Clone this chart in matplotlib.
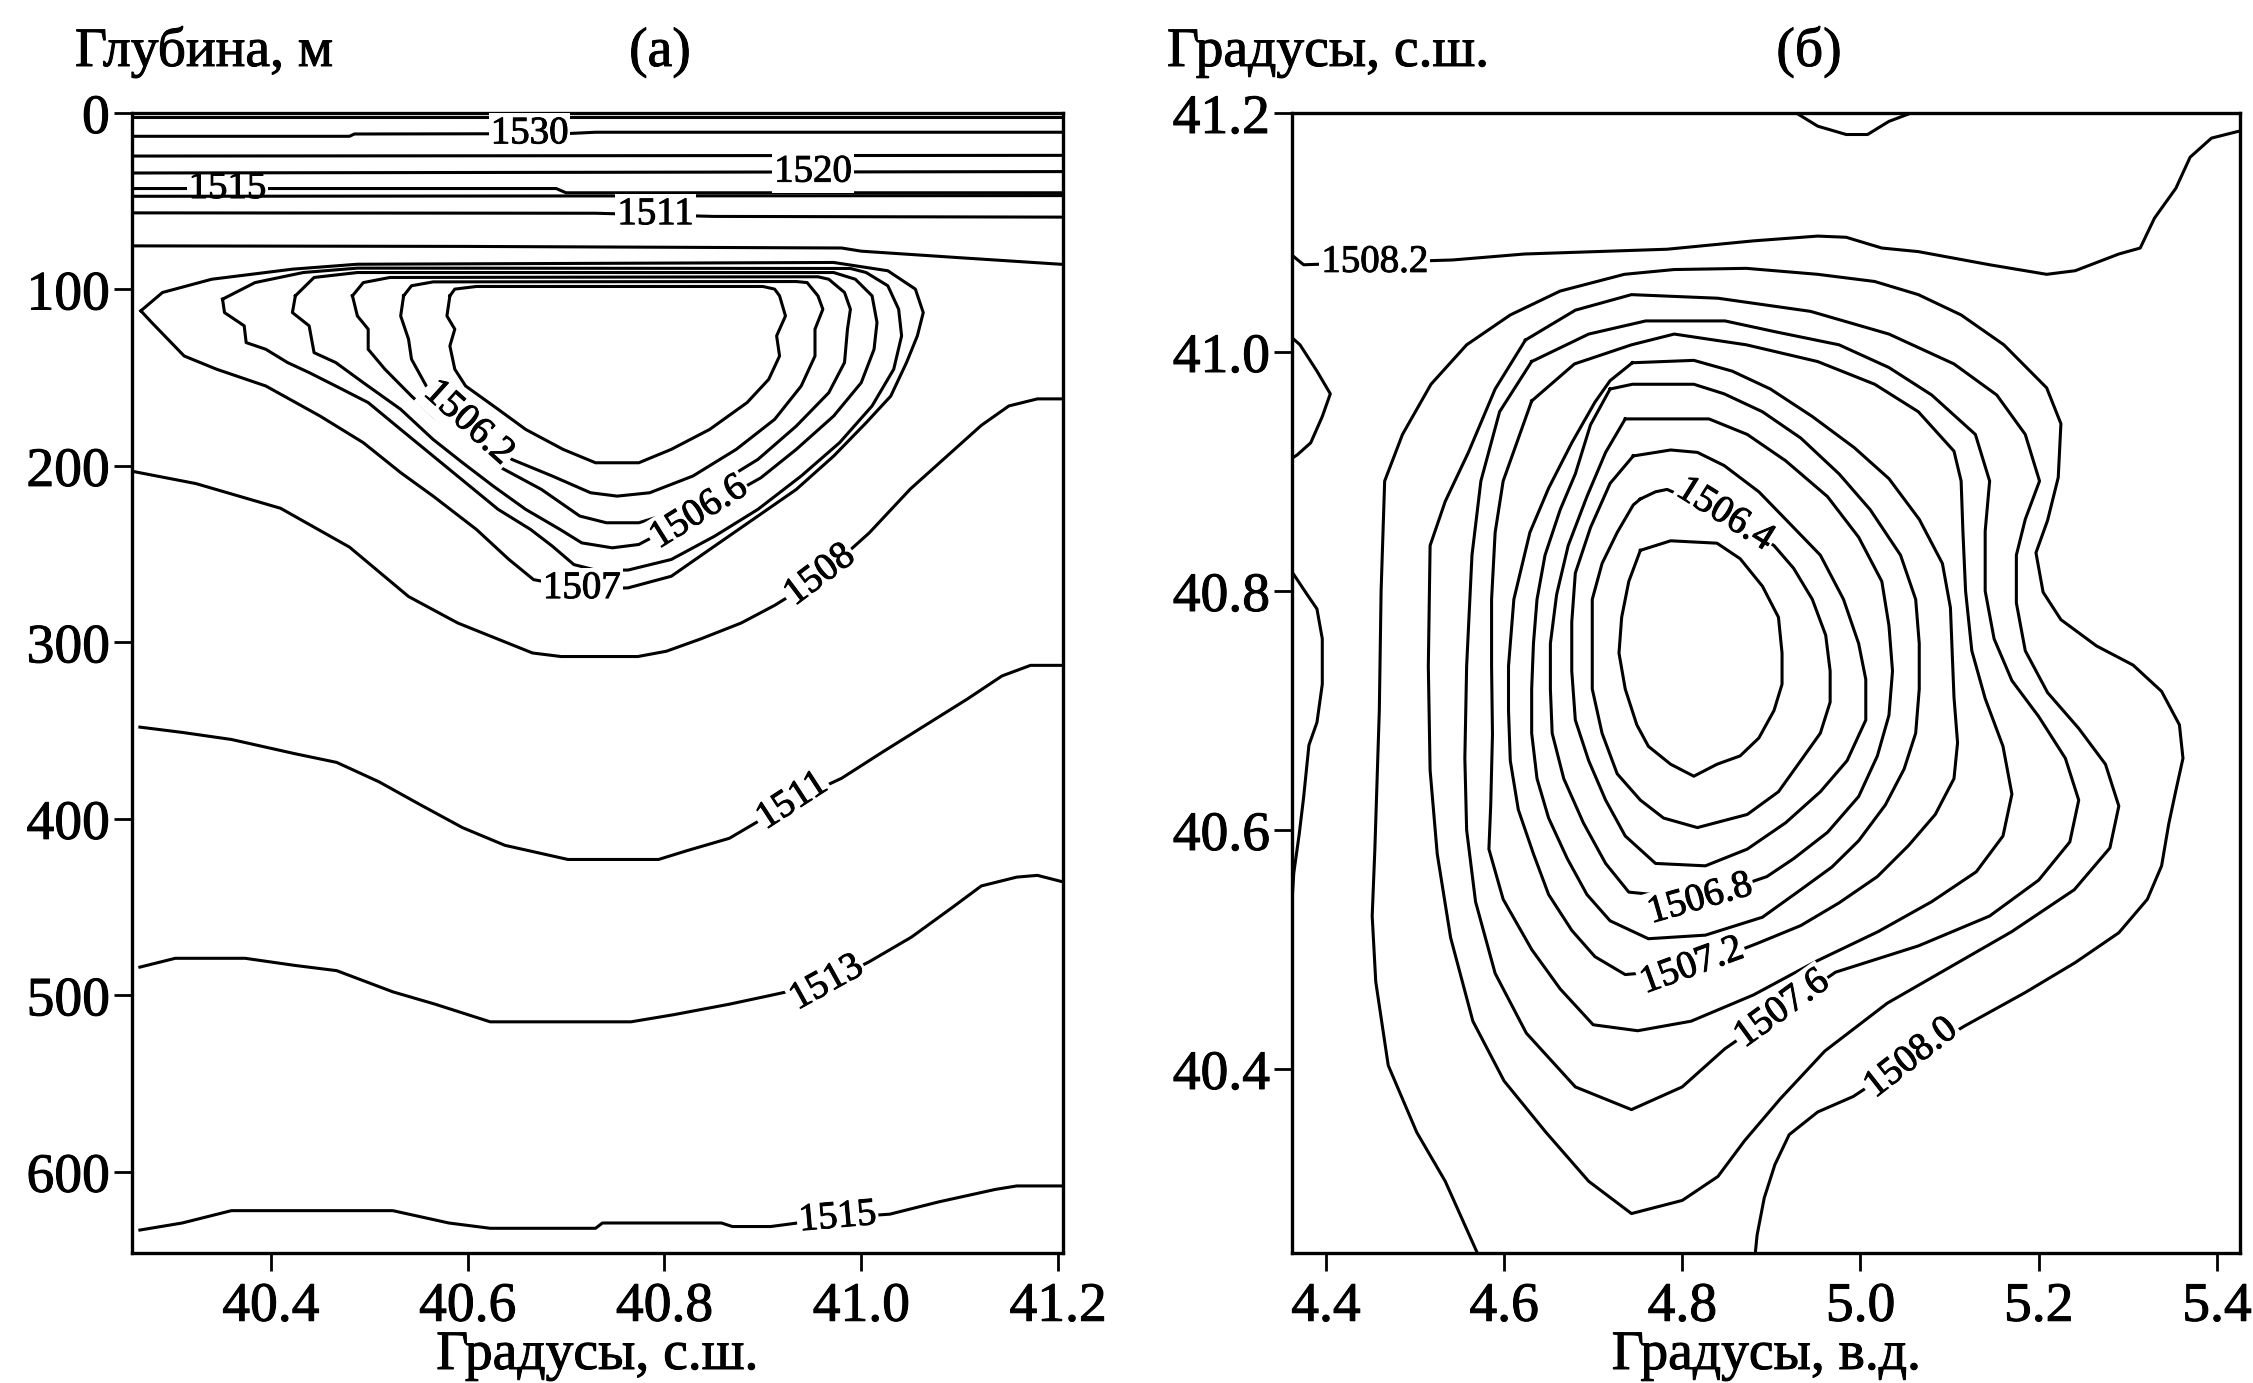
import numpy as np
import matplotlib
matplotlib.use("Agg")
import matplotlib.pyplot as plt
import matplotlib.patheffects as pe

plt.rcParams["font.family"] = ["Liberation Serif", "DejaVu Serif"]

# ---------------- (а) meridional section: latitude (deg N) vs depth (m) ----------------
# near-surface isolines
sec_lat_s0 = [40.262, 41.205]
sec_dep_s0 = [2.0, 2.0]
sec_lat_1530 = [40.262, 40.480, 40.485, 40.700, 40.730, 41.205]
sec_dep_1530 = [13.2, 13.2, 11.9, 11.7, 10.9, 10.9]
sec_lat_s2 = [40.262, 41.205]
sec_dep_s2 = [24.4, 24.0]
sec_lat_1520 = [40.262, 41.205]
sec_dep_1520 = [34.0, 33.2]
sec_lat_1515a = [40.262, 40.690, 40.700, 41.205]
sec_dep_1515a = [42.8, 42.8, 45.2, 45.2]
sec_lat_s5 = [40.262, 41.205]
sec_dep_s5 = [47.2, 46.8]
sec_lat_1511a = [40.262, 40.730, 40.850, 41.205]
sec_dep_1511a = [56.6, 56.8, 58.6, 59.0]
sec_lat_s7 = [40.262, 40.600, 40.980, 41.000, 41.100, 41.205]
sec_dep_s7 = [75.3, 75.6, 76.5, 78.3, 82.0, 85.8]

# cold lens, closed isolines 1506.0 ... 1507.0
lens_lat_1506_0 = [40.582, 40.587, 40.609, 40.900, 40.912, 40.917, 40.923, 40.914, 40.917, 40.906,
                   40.884, 40.846, 40.807, 40.774, 40.730, 40.697, 40.659, 40.631, 40.598, 40.587,
                   40.582, 40.587, 40.579]
lens_dep_1506_0 = [103.6, 99.8, 98.3, 98.3, 99.8, 103.6, 115.0, 126.3, 137.7, 150.9,
                   164.1, 179.3, 190.6, 198.2, 198.2, 190.6, 179.3, 167.9, 154.7, 145.2,
                   132.0, 122.5, 115.0]
lens_lat_1506_2 = [40.535, 40.543, 40.565, 40.934, 40.945, 40.956, 40.961, 40.953, 40.953, 40.939,
                   40.912, 40.873, 40.829, 40.785, 40.752, 40.725, 40.686, 40.645, 40.601, 40.558,
                   40.543, 40.540, 40.532]
lens_dep_1506_2 = [103.6, 97.9, 95.7, 95.5, 96.1, 103.6, 111.2, 122.5, 137.7, 154.7,
                   173.6, 190.6, 205.7, 215.2, 217.1, 215.2, 205.7, 196.3, 175.5, 154.7,
                   139.5, 128.2, 115.0]
lens_lat_1506_4 = [40.483, 40.494, 40.521, 40.956, 40.967, 40.983, 40.989, 40.986, 40.983, 40.967,
                   40.934, 40.895, 40.851, 40.807, 40.774, 40.741, 40.714, 40.675, 40.631, 40.598,
                   40.565, 40.543, 40.516, 40.499, 40.499, 40.488]
lens_dep_1506_4 = [103.6, 96.1, 93.2, 92.8, 94.2, 101.7, 111.2, 122.5, 141.4, 158.5,
                   177.4, 196.3, 211.4, 226.5, 232.2, 232.2, 228.4, 213.3, 200.1, 186.8,
                   171.7, 160.4, 145.2, 133.9, 122.5, 115.0]
lens_lat_1506_6 = [40.425, 40.444, 40.488, 40.972, 40.994, 41.011, 41.016, 41.013, 41.000, 40.972,
                   40.934, 40.898, 40.835, 40.774, 40.747, 40.716, 40.694, 40.659, 40.626, 40.595,
                   40.565, 40.532, 40.494, 40.466, 40.444, 40.439, 40.422]
lens_dep_1506_6 = [103.6, 93.2, 90.4, 90.4, 94.2, 103.6, 118.7, 133.9, 152.8, 171.7,
                   190.6, 206.7, 226.5, 244.5, 246.4, 243.6, 236.0, 224.6, 211.4, 198.2,
                   185.0, 167.9, 152.8, 141.4, 135.8, 120.6, 113.1]
lens_lat_1506_8 = [40.351, 40.384, 40.433, 40.488, 40.989, 41.005, 41.027, 41.038, 41.041, 41.033,
                   41.011, 40.978, 40.939, 40.895, 40.851, 40.807, 40.763, 40.730, 40.708, 40.686,
                   40.664, 40.631, 40.598, 40.565, 40.532, 40.499, 40.466, 40.439, 40.417, 40.395,
                   40.375, 40.373, 40.353]
lens_dep_1506_8 = [105.5, 96.1, 90.4, 87.9, 88.1, 90.4, 97.9, 111.2, 126.3, 145.2,
                   166.0, 186.8, 205.7, 224.6, 239.8, 253.0, 259.0, 259.0, 255.9, 245.4,
                   236.0, 224.6, 209.5, 194.4, 179.3, 164.1, 154.7, 147.1, 141.4, 133.9,
                   130.1, 120.6, 113.1]
lens_lat_1507_0 = [40.268, 40.290, 40.340, 40.422, 40.488, 40.972, 41.027, 41.055, 41.063, 41.057,
                   41.046, 41.030, 41.005, 40.972, 40.934, 40.895, 40.851, 40.807, 40.763, 40.716,
                   40.667, 40.642, 40.609, 40.565, 40.532, 40.494, 40.450, 40.395, 40.345, 40.312,
                   40.279]
lens_dep_1507_0 = [112.1, 101.7, 94.2, 88.5, 85.7, 84.7, 89.4, 99.8, 113.1, 126.3,
                   141.4, 160.4, 175.5, 194.4, 213.3, 228.4, 245.4, 262.5, 269.1, 269.7,
                   264.4, 253.0, 236.0, 217.1, 203.8, 186.8, 171.7, 154.7, 145.2, 137.7,
                   118.7]

# deeper isolines crossing the whole section
sec_lat_1508 = [40.259, 40.324, 40.410, 40.480, 40.540, 40.590, 40.666, 40.695, 40.773, 40.802,
                40.837, 40.878, 40.912, 40.958, 41.008, 41.050, 41.086, 41.122, 41.150, 41.179, 41.205]
sec_dep_1508 = [203, 210, 224, 246, 274, 289, 306, 308, 308, 305,
                298, 289, 279, 263, 238, 213, 195, 177, 166, 162, 162]
sec_lat_1511b = [40.267, 40.310, 40.360, 40.424, 40.467, 40.510, 40.552, 40.595, 40.638, 40.702,
                 40.794, 40.823, 40.866, 40.930, 40.980, 41.022, 41.065, 41.108, 41.143, 41.172, 41.207]
sec_dep_1511b = [348, 351, 355, 363, 368, 379, 392, 405, 415, 423,
                 423, 418, 411, 390, 377, 362, 347, 332, 319, 313, 313]
sec_lat_1513 = [40.267, 40.303, 40.374, 40.424, 40.467, 40.524, 40.567, 40.623, 40.766, 40.809,
                40.866, 40.908, 40.965, 41.008, 41.051, 41.093, 41.122, 41.158, 41.179, 41.207]
sec_dep_1513 = [484, 479, 479, 483, 486, 498, 505, 515, 515, 511,
                505, 500, 493, 481, 467, 450, 438, 433, 432, 436]
sec_lat_1515b = [40.267, 40.310, 40.360, 40.524, 40.581, 40.623, 40.730, 40.737, 40.858, 40.869,
                 40.908, 40.976, 41.029, 41.079, 41.136, 41.158, 41.207]
sec_dep_1515b = [633, 629, 622, 622, 629, 632, 632, 629, 629, 631,
                 631, 626, 624, 617, 610, 608, 608]

sec_label_text = ["1530", "1520", "1515", "1511", "1506.2", "1506.6", "1507", "1508", "1511", "1513", "1515"]
sec_label_lat = [40.663, 40.951, 40.356, 40.791, 40.601, 40.835, 40.716, 40.958, 40.930, 40.965, 40.976]
sec_label_dep = [11.8, 33.5, 42.8, 57.6, 175.5, 226.5, 269.5, 262.0, 390.0, 493.0, 626.0]
sec_label_rot = [0, 0, 0, 0, -42, 32, 0, 37, 33, 29, 5]

# ---------------- (б) horizontal map: longitude (deg E) vs latitude (deg N) ----------------
map_lon_1506_2 = [4.753, 4.787, 4.839, 4.865, 4.890, 4.908, 4.912, 4.912, 4.903, 4.886,
                  4.865, 4.839, 4.813, 4.787, 4.762, 4.749, 4.736, 4.729, 4.732, 4.740]
map_lat_1506_2 = [40.834, 40.842, 40.840, 40.827, 40.804, 40.778, 40.748, 40.722, 40.700, 40.677,
                  40.662, 40.655, 40.645, 40.655, 40.670, 40.688, 40.718, 40.748, 40.778, 40.808]
map_lon_1506_4 = [4.753, 4.770, 4.783, 4.847, 4.903, 4.925, 4.946, 4.961, 4.966, 4.966,
                  4.955, 4.933, 4.908, 4.873, 4.817, 4.779, 4.753, 4.727, 4.710, 4.699,
                  4.699, 4.699, 4.710, 4.727, 4.745]
map_lat_1506_4 = [40.877, 40.883, 40.885, 40.864, 40.838, 40.819, 40.793, 40.763, 40.733, 40.707,
                  40.681, 40.658, 40.632, 40.613, 40.602, 40.610, 40.625, 40.647, 40.681, 40.718,
                  40.756, 40.793, 40.823, 40.849, 40.872]
map_lon_1506_6 = [4.745, 4.787, 4.817, 4.847, 4.886, 4.916, 4.955, 4.981, 4.998, 5.006,
                  5.006, 4.985, 4.955, 4.916, 4.873, 4.826, 4.770, 4.736, 4.714, 4.695,
                  4.680, 4.676, 4.676, 4.680, 4.697, 4.719]
map_lat_1506_6 = [40.913, 40.918, 40.916, 40.905, 40.883, 40.860, 40.830, 40.793, 40.756, 40.726,
                  40.692, 40.658, 40.632, 40.606, 40.584, 40.570, 40.572, 40.595, 40.625, 40.658,
                  40.692, 40.733, 40.774, 40.815, 40.853, 40.890]
map_lon_1506_8 = [4.736, 4.830, 4.873, 4.916, 4.963, 4.998, 5.024, 5.032, 5.036, 5.032,
                  5.019, 4.998, 4.963, 4.925, 4.895, 4.820, 4.740, 4.714, 4.689, 4.667,
                  4.654, 4.652, 4.652, 4.659, 4.672, 4.693, 4.714]
map_lat_1506_8 = [40.944, 40.944, 40.931, 40.909, 40.879, 40.845, 40.808, 40.771, 40.733, 40.696,
                  40.662, 40.628, 40.598, 40.576, 40.561, 40.542, 40.548, 40.572, 40.606, 40.643,
                  40.681, 40.718, 40.756, 40.797, 40.838, 40.879, 40.916]
map_lon_1507_0 = [4.719, 4.744, 4.813, 4.847, 4.890, 4.933, 4.976, 5.011, 5.045, 5.062,
                  5.066, 5.066, 5.062, 5.049, 5.028, 4.998, 4.968, 4.933, 4.890, 4.826,
                  4.762, 4.719, 4.693, 4.671, 4.650, 4.637, 4.631, 4.631, 4.633, 4.637,
                  4.646, 4.663, 4.680, 4.697]
map_lat_1507_0 = [40.969, 40.973, 40.973, 40.965, 40.950, 40.928, 40.898, 40.868, 40.830, 40.793,
                  40.756, 40.718, 40.681, 40.651, 40.621, 40.591, 40.569, 40.550, 40.527, 40.512,
                  40.509, 40.524, 40.546, 40.576, 40.610, 40.643, 40.681, 40.718, 40.756, 40.793,
                  40.830, 40.868, 40.898, 40.939]
map_lon_1507_2 = [4.744, 4.813, 4.856, 4.899, 4.946, 4.993, 5.032, 5.066, 5.092, 5.101,
                  5.103, 5.105, 5.109, 5.105, 5.084, 5.054, 5.019, 4.976, 4.933, 4.884,
                  4.811, 4.736, 4.702, 4.676, 4.650, 4.633, 4.616, 4.607, 4.605, 4.605,
                  4.611, 4.629, 4.650, 4.676, 4.702, 4.719]
map_lat_1507_2 = [40.991, 40.993, 40.984, 40.969, 40.946, 40.920, 40.894, 40.860, 40.823, 40.786,
                  40.748, 40.711, 40.673, 40.643, 40.613, 40.587, 40.561, 40.539, 40.520, 40.505,
                  40.484, 40.479, 40.494, 40.516, 40.546, 40.580, 40.617, 40.658, 40.700, 40.737,
                  40.793, 40.849, 40.886, 40.924, 40.958, 40.976]
map_lon_1507_4 = [4.631, 4.679, 4.743, 4.791, 4.872, 4.952, 5.016, 5.065, 5.105, 5.113,
                  5.115, 5.118, 5.125, 5.140, 5.160, 5.170, 5.160, 5.130, 5.080, 5.020,
                  4.950, 4.880, 4.810, 4.750, 4.700, 4.663, 4.631, 4.599, 4.583, 4.585,
                  4.587, 4.586, 4.586, 4.590, 4.599]
map_lat_1507_4 = [40.959, 40.990, 41.006, 41.015, 41.006, 40.992, 40.973, 40.950, 40.917, 40.892,
                  40.850, 40.800, 40.750, 40.710, 40.670, 40.630, 40.595, 40.565, 40.540, 40.515,
                  40.490, 40.462, 40.440, 40.432, 40.437, 40.467, 40.500, 40.542, 40.584, 40.620,
                  40.680, 40.737, 40.793, 40.849, 40.892]
map_lon_1507_6 = [4.631, 4.695, 4.759, 4.848, 4.904, 4.976, 5.032, 5.080, 5.129, 5.145,
                  5.140, 5.140, 5.150, 5.170, 5.200, 5.230, 5.245, 5.235, 5.200, 5.145,
                  5.065, 4.972, 4.912, 4.848, 4.800, 4.743, 4.680, 4.625, 4.590, 4.568,
                  4.558, 4.556, 4.558, 4.564, 4.574, 4.595]
map_lat_1507_6 = [40.992, 41.015, 41.026, 41.026, 41.017, 41.006, 40.987, 40.964, 40.931, 40.892,
                  40.850, 40.800, 40.760, 40.725, 40.695, 40.660, 40.625, 40.590, 40.558, 40.528,
                  40.503, 40.481, 40.450, 40.417, 40.385, 40.366, 40.385, 40.430, 40.480, 40.540,
                  40.600, 40.660, 40.737, 40.830, 40.892, 40.950]
map_lon_1507_8 = [4.624, 4.680, 4.743, 4.840, 4.944, 5.032, 5.105, 5.153, 5.185, 5.201,
                  5.185, 5.175, 5.175, 5.185, 5.210, 5.245, 5.275, 5.290, 5.280, 5.240,
                  5.170, 5.100, 5.030, 4.960, 4.910, 4.870, 4.840, 4.800, 4.743, 4.695,
                  4.647, 4.600, 4.565, 4.540, 4.525, 4.517, 4.515, 4.517, 4.534, 4.560,
                  4.590]
map_lat_1507_8 = [41.010, 41.035, 41.048, 41.045, 41.034, 41.015, 40.990, 40.964, 40.931, 40.892,
                  40.860, 40.830, 40.790, 40.750, 40.715, 40.685, 40.655, 40.620, 40.585, 40.550,
                  40.515, 40.485, 40.455, 40.415, 40.375, 40.340, 40.310, 40.290, 40.279, 40.306,
                  40.347, 40.390, 40.440, 40.510, 40.580, 40.650, 40.737, 40.838, 40.875, 40.916,
                  40.969]
# 1508.0 is open towards the southern edge
map_lon_1508_0 = [4.570, 4.534, 4.502, 4.470, 4.456, 4.452, 4.455, 4.460, 4.462, 4.466,
                  4.486, 4.518, 4.558, 4.607, 4.663, 4.735, 4.791, 4.872, 4.952, 5.016,
                  5.065, 5.113, 5.161, 5.209, 5.225, 5.222, 5.210, 5.197, 5.205, 5.225,
                  5.265, 5.306, 5.338, 5.358, 5.362, 5.354, 5.346, 5.338, 5.322, 5.290,
                  5.241, 5.185, 5.117, 5.057, 4.992, 4.952, 4.920, 4.904, 4.892, 4.884, 4.882]
map_lat_1508_0 = [40.246, 40.306, 40.347, 40.403, 40.473, 40.528, 40.584, 40.700, 40.800, 40.892,
                  40.931, 40.973, 41.006, 41.031, 41.051, 41.065, 41.069, 41.070, 41.065, 41.059,
                  41.048, 41.031, 41.006, 40.970, 40.940, 40.895, 40.859, 40.832, 40.799, 40.776,
                  40.754, 40.738, 40.716, 40.688, 40.660, 40.633, 40.605, 40.570, 40.542, 40.514,
                  40.489, 40.464, 40.436, 40.409, 40.377, 40.364, 40.345, 40.320, 40.292, 40.261, 40.246]
map_lon_1508_2 = [4.362, 4.375, 4.455, 4.542, 4.623, 4.783, 4.880, 4.952, 4.984, 5.024,
                  5.065, 5.145, 5.209, 5.241, 5.290, 5.314, 5.330, 5.354, 5.370, 5.394, 5.426]
map_lat_1508_2 = [41.081, 41.073, 41.075, 41.077, 41.082, 41.086, 41.093, 41.097, 41.096, 41.087,
                  41.084, 41.073, 41.065, 41.068, 41.082, 41.087, 41.112, 41.137, 41.163, 41.179, 41.185]
# small isolines touching the western and northern edges
map_lon_w1 = [4.362, 4.371, 4.390, 4.405, 4.396, 4.383, 4.368, 4.362]
map_lat_w1 = [41.012, 41.006, 40.984, 40.965, 40.946, 40.924, 40.914, 40.911]
map_lon_w2 = [4.362, 4.379, 4.390, 4.396, 4.396, 4.390, 4.381, 4.375, 4.370, 4.364, 4.362]
map_lat_w2 = [40.816, 40.797, 40.785, 40.760, 40.722, 40.690, 40.671, 40.627, 40.596, 40.564, 40.540]
map_lon_n1 = [4.928, 4.952, 4.984, 5.008, 5.032, 5.057]
map_lat_n1 = [41.200, 41.189, 41.182, 41.182, 41.193, 41.200]

map_label_text = ["1508.2", "1506.4", "1506.8", "1507.2", "1507.6", "1508.0"]
map_label_lon = [4.455, 4.848, 4.820, 4.811, 4.912, 5.057]
map_label_lat = [41.075, 40.864, 40.542, 40.486, 40.450, 40.409]
map_label_rot = [0, -32, 16, 20, 36, 38]

# printed ink is a little heavier than a plain glyph outline
INK = [pe.withStroke(linewidth=0.7, foreground="black")]


def closed(xs, ys):
    return list(xs) + [xs[0]], list(ys) + [ys[0]]


def draw(ax, xs, ys, z=2):
    ax.plot(xs, ys, color="black", lw=2.2, solid_joinstyle="round", zorder=z)


def labels(ax, xs, ys, texts, rots, z=4):
    for x, y, t, r in zip(xs, ys, texts, rots):
        ax.text(x, y, t, fontsize=28, rotation=r, rotation_mode="anchor",
                ha="center", va="center", zorder=z, path_effects=INK,
                bbox=dict(boxstyle="square,pad=0.05", fc="white", ec="none"))


def style(ax):
    for s in ax.spines.values():
        s.set_linewidth(2.4)
    ax.tick_params(direction="out", length=13, width=2.0, labelsize=40)
    ax.tick_params(axis="x", pad=7)
    ax.tick_params(axis="y", pad=3)
    for t in ax.get_xticklabels() + ax.get_yticklabels():
        t.set_path_effects(INK)


W, H = 2253, 1383
fig = plt.figure(figsize=(W / 100, H / 100), dpi=100)

# ---- panel (а)
ax1 = fig.add_axes([132 / W, 1 - 1253 / H, 931 / W, 1140 / H])
for xs, ys in [(sec_lat_s0, sec_dep_s0), (sec_lat_1530, sec_dep_1530),
               (sec_lat_s2, sec_dep_s2), (sec_lat_1520, sec_dep_1520),
               (sec_lat_s5, sec_dep_s5), (sec_lat_1511a, sec_dep_1511a),
               (sec_lat_s7, sec_dep_s7), (sec_lat_1508, sec_dep_1508),
               (sec_lat_1511b, sec_dep_1511b), (sec_lat_1513, sec_dep_1513),
               (sec_lat_1515b, sec_dep_1515b)]:
    draw(ax1, xs, ys)
# upper 1515 sits under its label, which the neighbouring lines overlap
draw(ax1, sec_lat_1515a, sec_dep_1515a, z=1)
for xs, ys in [(lens_lat_1506_0, lens_dep_1506_0), (lens_lat_1506_2, lens_dep_1506_2),
               (lens_lat_1506_4, lens_dep_1506_4), (lens_lat_1506_6, lens_dep_1506_6),
               (lens_lat_1506_8, lens_dep_1506_8), (lens_lat_1507_0, lens_dep_1507_0)]:
    draw(ax1, *closed(xs, ys))
labels(ax1, sec_label_lat[:2] + sec_label_lat[3:], sec_label_dep[:2] + sec_label_dep[3:],
       sec_label_text[:2] + sec_label_text[3:], sec_label_rot[:2] + sec_label_rot[3:])
labels(ax1, sec_label_lat[2:3], sec_label_dep[2:3], sec_label_text[2:3], sec_label_rot[2:3], z=1.5)

ax1.set_xlim(40.259, 41.205)
ax1.set_ylim(646, 0)
ax1.set_xticks([40.4, 40.6, 40.8, 41.0, 41.2])
ax1.set_xticklabels(["40.4", "40.6", "40.8", "41.0", "41.2"])
ax1.set_yticks([0, 100, 200, 300, 400, 500, 600])
ax1.set_yticklabels(["0", "100", "200", "300", "400", "500", "600"])
style(ax1)

# ---- panel (б)
ax2 = fig.add_axes([1292 / W, 1 - 1253 / H, 948 / W, 1140 / H])
for xs, ys in [(map_lon_1506_2, map_lat_1506_2), (map_lon_1506_4, map_lat_1506_4),
               (map_lon_1506_6, map_lat_1506_6), (map_lon_1506_8, map_lat_1506_8),
               (map_lon_1507_0, map_lat_1507_0), (map_lon_1507_2, map_lat_1507_2),
               (map_lon_1507_4, map_lat_1507_4), (map_lon_1507_6, map_lat_1507_6),
               (map_lon_1507_8, map_lat_1507_8)]:
    draw(ax2, *closed(xs, ys))
for xs, ys in [(map_lon_1508_0, map_lat_1508_0), (map_lon_1508_2, map_lat_1508_2),
               (map_lon_w1, map_lat_w1), (map_lon_w2, map_lat_w2), (map_lon_n1, map_lat_n1)]:
    draw(ax2, xs, ys)
labels(ax2, map_label_lon, map_label_lat, map_label_text, map_label_rot)

ax2.set_xlim(4.362, 5.426)
ax2.set_ylim(40.246, 41.2)
ax2.set_xticks([4.4, 4.6, 4.8, 5.0, 5.2, 5.4])
ax2.set_xticklabels(["4.4", "4.6", "4.8", "5.0", "5.2", "5.4"])
ax2.set_yticks([40.4, 40.6, 40.8, 41.0, 41.2])
ax2.set_yticklabels(["40.4", "40.6", "40.8", "41.0", "41.2"])
style(ax2)

# titles and axis captions
ytop = 1 - 66 / H
caption = dict(fontsize=40, va="baseline", path_effects=INK)
fig.text(75 / W, ytop, "Глубина, м", ha="left", **caption)
fig.text(660 / W, ytop, "(а)", ha="center", **caption)
fig.text(1167 / W, ytop, "Градусы, с.ш.", ha="left", **caption)
fig.text(1809 / W, ytop, "(б)", ha="center", **caption)
fig.text(597 / W, 14 / H, "Градусы, с.ш.", ha="center", **caption)
fig.text(1766 / W, 14 / H, "Градусы, в.д.", ha="center", **caption)

fig.savefig("out.png", dpi=100, facecolor="white")
